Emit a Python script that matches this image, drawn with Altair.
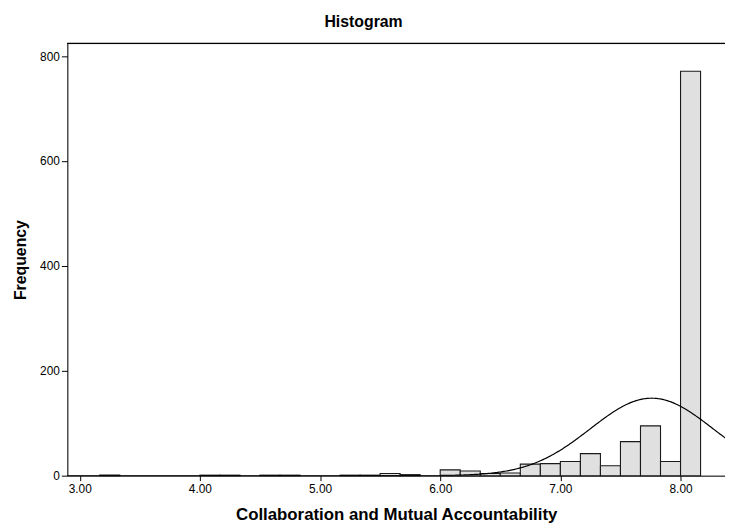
import altair as alt
import pandas as pd

# Histogram bins (lower edge of each 1/6-wide bin) and frequencies
bin_lo = [3.1667, 4.0, 4.1667, 4.5, 4.6667, 5.1667, 5.3333, 5.5, 5.6667,
          6.0, 6.1667, 6.3333, 6.5, 6.6667, 6.8333, 7.0, 7.1667, 7.3333,
          7.5, 7.6667, 7.8333, 8.0]
counts = [1, 1, 1, 1, 1, 1, 1, 4, 2,
          11, 9, 4, 5, 22, 23, 27, 42, 19,
          65, 95, 27, 771]
bin_width = 1 / 6

# Normal curve parameters (as shown by the fitted curve)
curve_mean = 7.76
curve_sd = 0.51
curve_n = 1133

x_ticks = [3, 4, 5, 6, 7, 8]
y_ticks = [0, 200, 400, 600, 800]

df = pd.DataFrame({"lo": bin_lo, "count": counts})
df["hi"] = df["lo"] + bin_width

FONT = "Liberation Sans"
xscale = alt.Scale(domain=[2.897, 8.37], nice=False, zero=False)
yscale = alt.Scale(domain=[0, 824], nice=False)

bars = alt.Chart(df).mark_rect(
    fill="#e0e0e0", stroke="#1a1a1a", strokeWidth=1.1
).encode(
    x=alt.X("lo:Q", scale=xscale,
            axis=alt.Axis(values=x_ticks, format=".2f", title="Collaboration and Mutual Accountability",
                          grid=False, domainColor="black", tickColor="black", tickSize=5,
                          labelFontSize=12, labelColor="black", labelPadding=3,
                          titleFontSize=17, titleFontWeight="bold", titleColor="black",
                          titlePadding=12, labelFont=FONT, titleFont=FONT)),
    x2="hi:Q",
    y=alt.Y("count:Q", scale=yscale,
            axis=alt.Axis(values=y_ticks, title="Frequency", grid=False,
                          domainColor="black", tickColor="black", tickSize=6,
                          labelFontSize=12, labelColor="black", labelPadding=2,
                          titleFontSize=16, titleFontWeight="bold", titleColor="black",
                          titlePadding=11, labelFont=FONT, titleFont=FONT)),
    y2=alt.datum(0),
)

curve = alt.Chart(alt.sequence(2.85, 8.45, 0.01, as_="x")).transform_calculate(
    y=f"{curve_n} * {bin_width} / ({curve_sd} * sqrt(2 * PI)) * exp(-0.5 * pow((datum.x - {curve_mean}) / {curve_sd}, 2))"
).mark_line(color="black", strokeWidth=1.2, clip=True).encode(
    x=alt.X("x:Q", scale=xscale),
    y=alt.Y("y:Q", scale=yscale),
)

top_border = alt.Chart(df).mark_rule(color="black", strokeWidth=1).encode(
    x=alt.value(0), x2=alt.value(665), y=alt.value(0)
)

chart = alt.layer(bars, curve, top_border).properties(
    width=665, height=437,
    title=alt.TitleParams("Histogram", fontSize=16, fontWeight="bold", font=FONT,
                          color="black", anchor="middle", dx=-33, offset=13),
    autosize=alt.AutoSizeParams(type="none"),
    padding={"left": 60, "top": 33, "right": 0, "bottom": 49},
).configure_view(stroke=None).configure(background="white")

chart.save("out.html", embed_options={"renderer": "svg", "actions": False})
